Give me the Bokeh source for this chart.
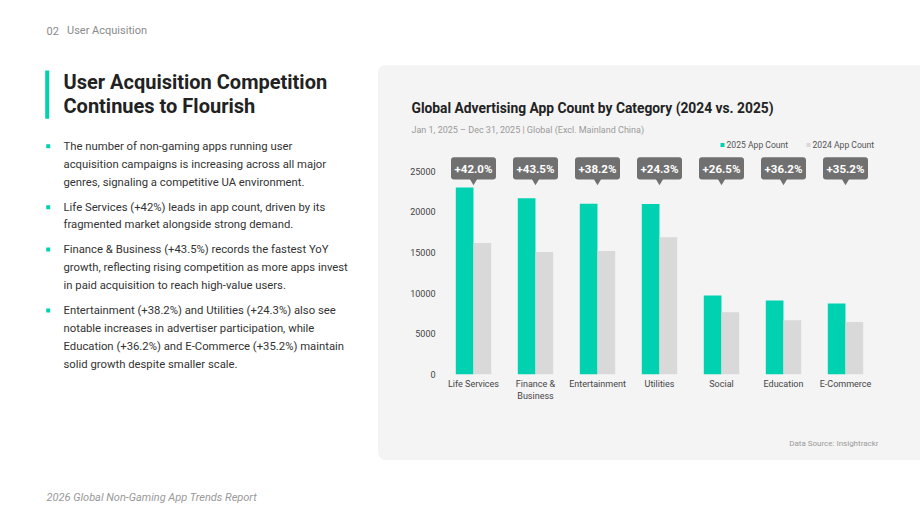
from bokeh.plotting import figure
from bokeh.layouts import row, column
from bokeh.models import (FactorRange, Range1d, FixedTicker, ColumnDataSource,
                          LinearScale, Spacer)
from bokeh.transform import dodge
from bokeh.core.properties import value
from bokeh.embed import file_html
from bokeh.resources import INLINE

# ---------------- data ----------------
categories = ["Life Services", "Finance &\nBusiness", "Entertainment", "Utilities",
              "Social", "Education", "E-Commerce"]
count_2025 = [22990, 21670, 21010, 20980, 9700, 9100, 8740]
count_2024 = [16170, 15060, 15200, 16870, 7670, 6680, 6460]
growth_labels = ["+42.0%", "+43.5%", "+38.2%", "+24.3%", "+26.5%", "+36.2%", "+35.2%"]
series_names = ["2025 App Count", "2024 App Count"]
y_ticks = [0, 5000, 10000, 15000, 20000, 25000]

bullets = [
    ["The number of non-gaming apps running user",
     "acquisition campaigns is increasing across all major",
     "genres, signaling a competitive UA environment."],
    ["Life Services (+42%) leads in app count, driven by its",
     "fragmented market alongside strong demand."],
    ["Finance & Business (+43.5%) records the fastest YoY",
     "growth, reflecting rising competition as more apps invest",
     "in paid acquisition to reach high-value users."],
    ["Entertainment (+38.2%) and Utilities (+24.3%) also see",
     "notable increases in advertiser participation, while",
     "Education (+36.2%) and E-Commerce (+35.2%) maintain",
     "solid growth despite smaller scale."],
]

# ---------------- style / layout constants (page pixels) ----------------
TEAL = "#00D2B1"
GREY_BAR = "#D9D9D9"
CALLOUT = "#707070"
PANEL = "#F4F4F4"
FONT = "Roboto"

W, H = 920, 519
PANEL_L, PANEL_T, PANEL_B = 378, 65, 460
HEAD_B = 153           # header / chart boundary
CHART_B = 410          # chart / footer boundary
CHART_L, CHART_R = PANEL_L + 1, W - 1
FRAME_L, FRAME_R, FRAME_B = 442, 876, 374
Y25_PX = 170.7         # page y of the 25000 tick
Y_MAX = 25000 * (FRAME_B - HEAD_B) / (FRAME_B - Y25_PX)
RW = W - PANEL_L


def deco_fig(x0, x1, y0, y1, bg):
    f = figure(width=int(x1 - x0), height=int(y1 - y0),
               x_range=Range1d(x0, x1), y_range=Range1d(y1, y0),
               output_backend="svg", toolbar_location=None, tools="",
               min_border=0, min_border_left=0, min_border_right=0,
               min_border_top=0, min_border_bottom=0)
    f.axis.visible = False
    f.grid.visible = False
    f.outline_line_color = None
    f.background_fill_color = bg
    f.border_fill_color = bg
    return f


def txt(f, x, y, t, size, color, style="normal", align="left"):
    f.text(x=[x], y=[y], text=[t], text_font=value(FONT), text_font_size=f"{size}px",
           text_color=color, text_font_style=style, text_align=align,
           text_baseline="middle")


def rect(f, l, r, t, b, color):
    f.quad(left=[l], right=[r], top=[t], bottom=[b], fill_color=color, line_color=None)


# ---------------- left column ----------------
left = deco_fig(0, PANEL_L, 0, H, "white")
txt(left, 46, 30, "02", 11, "#8A8A8A")
txt(left, 66.5, 30, "User Acquisition", 11, "#8A8A8A")
rect(left, 44.7, 48.7, 70, 118.3, TEAL)
txt(left, 63, 81, "User Acquisition Competition", 20, "#222222", "bold")
txt(left, 63, 105, "Continues to Flourish", 20, "#222222", "bold")
line_y = [[145.7, 163.5, 181.5], [206.7, 224.3], [249, 267.2, 285], [310, 328, 346, 363.5]]
for lines, ys in zip(bullets, line_y):
    rect(left, 45.7, 49.7, ys[0] - 2, ys[0] + 2, TEAL)
    for t, y in zip(lines, ys):
        txt(left, 63, y, t, 11.3, "#333333")
txt(left, 46, 497, "2026 Global Non-Gaming App Trends Report", 11, "#999999", "italic")

# ---------------- panel header ----------------
head = deco_fig(PANEL_L, W, PANEL_T, HEAD_B, PANEL)
txt(head, 411, 107, "Global Advertising App Count by Category (2024 vs. 2025)", 13.8,
    "#222222", "bold")
txt(head, 411, 129, "Jan 1, 2025 \u2013 Dec 31, 2025 | Global (Excl. Mainland China)", 9,
    "#9A9A9A")
# legend
rect(head, 720, 724, 142.5, 146.5, TEAL)
txt(head, 726, 144.5, series_names[0], 8.6, "#555555")
rect(head, 806, 810, 142.5, 146.5, GREY_BAR)
txt(head, 812, 144.5, series_names[1], 8.6, "#555555")

# ---------------- chart ----------------
p = figure(width=CHART_R - CHART_L, height=CHART_B - HEAD_B,
           x_range=FactorRange(factors=categories),
           y_range=Range1d(0, Y_MAX),
           output_backend="svg", toolbar_location=None, tools="",
           min_border_left=FRAME_L - CHART_L, min_border_right=CHART_R - FRAME_R,
           min_border_top=0, min_border_bottom=CHART_B - FRAME_B)
p.extra_y_ranges = {"py": Range1d(FRAME_B, HEAD_B)}
p.extra_y_scales = {"py": LinearScale()}
p.background_fill_color = PANEL
p.border_fill_color = PANEL
p.outline_line_color = None
p.xgrid.grid_line_color = None
p.ygrid.grid_line_color = None

p.yaxis.ticker = FixedTicker(ticks=y_ticks)
p.yaxis.axis_line_color = None
p.yaxis.major_tick_line_color = None
p.yaxis.minor_tick_line_color = None
p.yaxis.major_tick_out = 0
p.yaxis.major_label_text_font = FONT
p.yaxis.major_label_text_font_size = "9px"
p.yaxis.major_label_text_color = "#444444"
p.yaxis.major_label_standoff = 7

p.xaxis.axis_line_color = None
p.xaxis.major_tick_line_color = None
p.xaxis.major_tick_out = 0
p.xaxis.major_label_text_font = FONT
p.xaxis.major_label_text_font_size = "9px"
p.xaxis.major_label_text_color = "#444444"
p.xaxis.major_label_standoff = 4

src = ColumnDataSource(dict(cat=categories, v25=count_2025, v24=count_2024,
                            growth=growth_labels))

p.vbar(x=dodge("cat", -0.143, range=p.x_range), top="v25", width=0.285,
       source=src, fill_color=TEAL, line_color=None)
p.vbar(x=dodge("cat", 0.143, range=p.x_range), top="v24", width=0.285,
       source=src, fill_color=GREY_BAR, line_color=None)

# growth callouts
p.vbar(x="cat", top=156.7, bottom=179, width=0.726, source=src, y_range_name="py",
       fill_color=CALLOUT, line_color=None, border_radius=3)
p.scatter(x="cat", y=180.2, marker="inverted_triangle", size=8, source=src,
          y_range_name="py", fill_color=CALLOUT, line_color=None)
p.text(x="cat", y=168, text="growth", source=src, y_range_name="py",
       text_align="center", text_baseline="middle", text_font=value(FONT),
       text_font_style="bold", text_font_size="11.5px", text_color="white")

# ---------------- panel footer ----------------
foot = deco_fig(PANEL_L, W, CHART_B, PANEL_B, PANEL)
txt(foot, 878, 443, "Data Source: Insightrackr", 8, "#9A9A9A", align="right")

chart_row = row(Spacer(width=CHART_L - PANEL_L, height=CHART_B - HEAD_B), p,
                Spacer(width=W - CHART_R, height=CHART_B - HEAD_B), spacing=0)
panel = column(head, chart_row, foot, spacing=0,
               styles={"border-radius": "8px 0 0 8px", "overflow": "hidden",
                       "background-color": PANEL})
right = column(Spacer(width=RW, height=PANEL_T), panel,
               Spacer(width=RW, height=H - PANEL_B), spacing=0)
layout = row(left, right, spacing=0)

open("out.html", "w").write(file_html(layout, INLINE))
